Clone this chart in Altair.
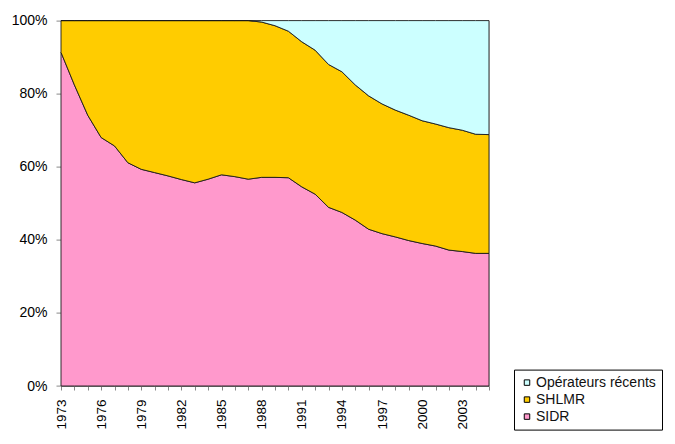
import altair as alt
import pandas as pd

years = list(range(1973, 2006))
series_names = ["Opérateurs récents", "SHLMR", "SIDR"]
colors = ["#CCFFFF", "#FFCC00", "#FF99CC"]

sidr = [91.3, 82.4, 74.1, 68.0, 65.7, 61.1, 59.3, 58.4, 57.5, 56.5, 55.6,
        56.6, 57.8, 57.3, 56.6, 57.1, 57.1, 57.0, 54.5, 52.5, 48.9, 47.5,
        45.4, 42.9, 41.7, 40.8, 39.8, 39.0, 38.3, 37.2, 36.8, 36.3, 36.3]
shlmr = [8.7, 17.6, 25.9, 32.0, 34.3, 38.9, 40.7, 41.6, 42.5, 43.5, 44.4,
         43.4, 42.2, 42.7, 43.4, 42.5, 41.5, 40.1, 39.7, 39.4, 39.1, 38.5,
         37.0, 36.5, 35.5, 34.7, 34.3, 33.6, 33.4, 33.5, 33.2, 32.6, 32.5]
recents = [0, 0, 0, 0, 0, 0, 0, 0, 0, 0, 0, 0, 0, 0, 0,
           0.4, 1.4, 2.9, 5.8, 8.1, 12.0, 14.0, 17.6, 20.6, 22.8, 24.5,
           25.9, 27.4, 28.3, 29.3, 30.0, 31.1, 31.2]

y_ticks = [0, 20, 40, 60, 80, 100]

rows = []
for ord_, (name, vals) in enumerate([("SIDR", sidr), ("SHLMR", shlmr), ("Opérateurs récents", recents)]):
    for yr, v in zip(years, vals):
        rows.append({"year": yr, "serie": name, "value": v, "ord": ord_})
df = pd.DataFrame(rows)

FONT = "Liberation Sans"

chart = alt.Chart(df).mark_area(
    stroke="#1a1a1a", strokeWidth=0.9, interpolate="linear"
).encode(
    x=alt.X("year:Q",
            scale=alt.Scale(domain=[1973, 2005], nice=False, zero=False),
            axis=alt.Axis(title=None, values=years,
                          labelExpr="(datum.value - 1973) % 3 == 0 ? format(datum.value, 'd') : ''",
                          labelAngle=270, labelAlign="right", labelBaseline="middle",
                          labelOverlap=False, labelFlush=False,
                          tickSize=4, labelPadding=9, labelFontSize=13.5)),
    y=alt.Y("value:Q", stack="zero",
            scale=alt.Scale(domain=[0, 100], nice=False),
            axis=alt.Axis(title=None, values=y_ticks, labelExpr="datum.value + '%'",
                          tickSize=5, labelPadding=9, labelFontSize=14, grid=False)),
    color=alt.Color("serie:N",
                    scale=alt.Scale(domain=series_names, range=colors),
                    legend=alt.Legend(title=None, orient="none", legendX=453, legendY=349,
                                      symbolType="square", symbolSize=30,
                                      symbolStrokeColor="#000", symbolStrokeWidth=1,
                                      labelFontSize=14, labelFont=FONT, rowPadding=3,
                                      padding=6, strokeColor="#000", fillColor="white",
                                      labelOffset=2, labelColor="#111")),
    order=alt.Order("ord:Q", sort="ascending"),
).properties(
    width=428, height=365.4,
    autosize=alt.AutoSizeParams(type="none"),
    padding={"left": 53, "top": 12.6, "right": 178, "bottom": 50},
).configure_view(
    stroke="#606060", strokeWidth=1
).configure_axis(
    domainColor="#000", tickColor="#000", labelColor="#111", labelFont=FONT,
    domainWidth=1, tickWidth=1
).configure(background="white")

chart.save("out.html", embed_options={"renderer": "svg", "actions": False})
